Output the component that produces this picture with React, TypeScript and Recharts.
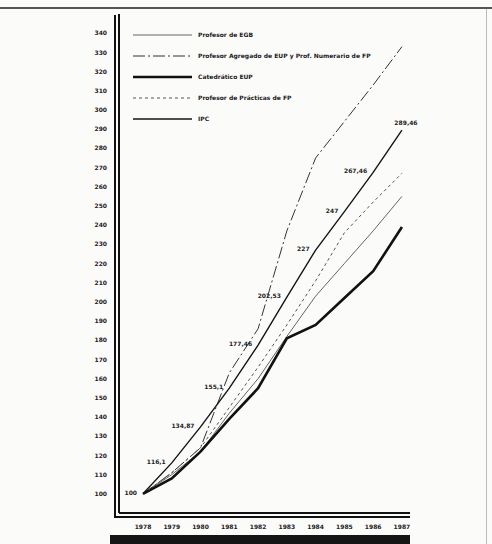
import React from 'react';
import { LineChart, Line, XAxis, YAxis, Legend, LabelList } from 'recharts';

const years = [1978, 1979, 1980, 1981, 1982, 1983, 1984, 1985, 1986, 1987];
const profesorEGB = [100, 110, 122, 142, 160, 182, 203, 220, 237, 255];
const profesorAgregado = [100, 111, 124, 163, 186, 237, 275, 294, 313, 333];
const catedraticoEUP = [100, 108, 122, 139, 155, 181, 188, 202, 216, 239];
const profesorPracticas = [100, 111, 124, 145, 166, 188, 211, 236, 252, 267];
const ipc = [100, 116.1, 134.87, 155.1, 177.46, 202.53, 227, 247, 267.46, 289.46];
const ipcLabels = ['100', '116,1', '134,87', '155,1', '177,46', '202,53', '227', '247', '267,46', '289,46'];
const yTicks = [100, 110, 120, 130, 140, 150, 160, 170, 180, 190, 200, 210, 220, 230, 240, 250, 260, 270, 280, 290, 300, 310, 320, 330, 340];

const series = [
  { key: 'egb', name: 'Profesor de EGB', color: '#666', width: 1, dash: undefined as string | undefined },
  { key: 'agregado', name: 'Profesor Agregado de EUP y Prof. Numerario de FP', color: '#333', width: 1, dash: '12 3 2 3' },
  { key: 'catedratico', name: 'Catedrático EUP', color: '#111', width: 2.6, dash: undefined },
  { key: 'practicas', name: 'Profesor de Prácticas de FP', color: '#555', width: 1, dash: '3 3' },
  { key: 'ipc', name: 'IPC', color: '#151515', width: 1.4, dash: undefined },
];

const data = years.map((year, i) => ({
  year,
  egb: profesorEGB[i],
  agregado: profesorAgregado[i],
  catedratico: catedraticoEUP[i],
  practicas: profesorPracticas[i],
  ipc: ipc[i],
  ipcLabel: ipcLabels[i],
}));

const FONT = '"DejaVu Sans", sans-serif';

const IpcLabel = (props: any) => {
  const { x, y, value } = props;
  if (x == null || y == null) return null;
  const last = value === ipcLabels[ipcLabels.length - 1];
  if (last) {
    return (
      <text x={x + 4} y={y - 5} textAnchor="middle" fontSize={6} fontWeight="bold" fontFamily={FONT} fill="#222">
        {value}
      </text>
    );
  }
  return (
    <text x={x - 6} y={y + 1} textAnchor="end" fontSize={6} fontWeight="bold" fontFamily={FONT} fill="#222">
      {value}
    </text>
  );
};

const renderLegend = () => (
  <div style={{ fontFamily: FONT, fontSize: 6, fontWeight: 'bold', color: '#222' }}>
    {series.map((s) => (
      <div key={s.key} style={{ display: 'flex', alignItems: 'center', height: 21 }}>
        <svg width={59} height={6} style={{ display: 'block' }}>
          <line x1={0} x2={59} y1={3} y2={3} stroke={s.color} strokeWidth={s.width} strokeDasharray={s.dash} />
        </svg>
        <span style={{ marginLeft: 6, whiteSpace: 'nowrap' }}>{s.name}</span>
      </div>
    ))}
  </div>
);

const tickStyle = { fontSize: 6, fontWeight: 'bold' as const, fontFamily: FONT, fill: '#222' };

export default function App() {
  return (
    <div style={{ position: 'absolute', left: 0, top: 0, width: 492, height: 544, background: '#fbfbfa', overflow: 'hidden' }}>
      <LineChart width={492} height={544} data={data} margin={{ top: 14, right: 82, bottom: 6, left: 79 }}>
        <XAxis
          dataKey="year"
          type="number"
          domain={[1977.166, 1987.28]}
          ticks={years}
          interval={0}
          height={25}
          tickSize={0}
          tickMargin={12}
          tick={tickStyle}
          axisLine={{ stroke: '#111', strokeWidth: 2 }}
          tickFormatter={(v: number) => String(v)}
        />
        <YAxis
          type="number"
          domain={[90, 350]}
          ticks={yTicks}
          interval={0}
          width={40}
          tickSize={0}
          tickMargin={12}
          tick={tickStyle}
          axisLine={{ stroke: '#111', strokeWidth: 2 }}
        />
        <Legend
          layout="vertical"
          align="center"
          verticalAlign="middle"
          content={renderLegend}
          wrapperStyle={{ left: 133, top: 24, width: 300 }}
        />
        {series.map((s) => (
          <Line
            key={s.key}
            type="linear"
            dataKey={s.key}
            name={s.name}
            stroke={s.color}
            strokeWidth={s.width}
            strokeDasharray={s.dash}
            dot={false}
            activeDot={false}
            isAnimationActive={false}
          >
            {s.key === 'ipc' ? <LabelList dataKey="ipcLabel" content={IpcLabel} /> : null}
          </Line>
        ))}
      </LineChart>
      <div style={{ position: 'absolute', left: 0, top: 7, width: 492, height: 2, background: '#555' }} />
      <div style={{ position: 'absolute', left: 486, top: 9, width: 1, height: 535, background: '#bbb' }} />
      <div
        style={{
          position: 'absolute',
          left: 114,
          top: 15,
          width: 296,
          height: 503,
          boxSizing: 'border-box',
          borderLeft: '2px solid #111',
          borderBottom: '2px solid #111',
        }}
      />
      <div style={{ position: 'absolute', left: 110, top: 535, width: 300, height: 9, background: '#151515' }} />
    </div>
  );
}
